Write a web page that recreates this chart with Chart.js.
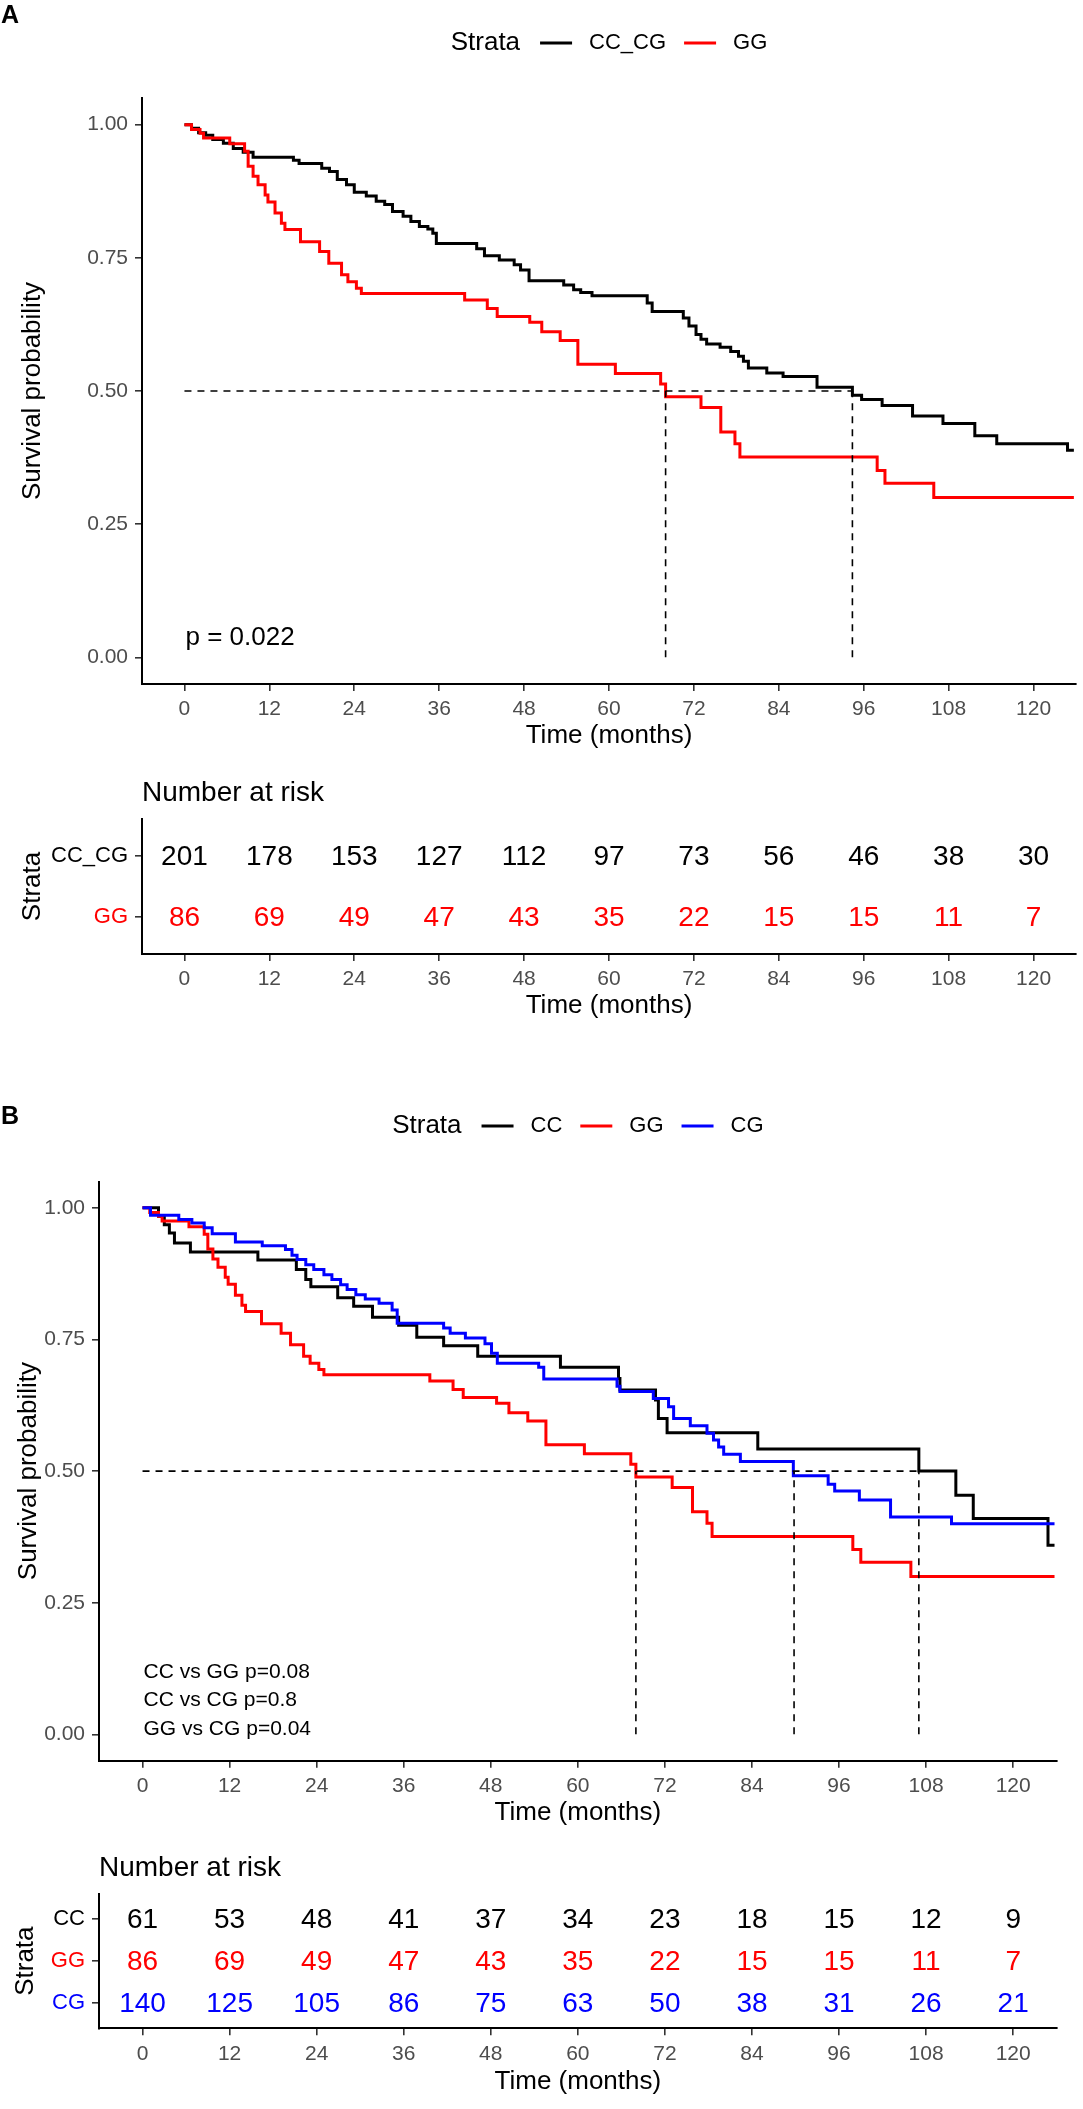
<!doctype html>
<html>
<head>
	<meta charset="utf-8" />
	<title>Survival curves</title>
	<style>
		html, body { margin: 0; padding: 0; background: #fff; }
		body { width: 1083px; height: 2109px; position: relative; overflow: hidden; }
		canvas { position: absolute; left: 0; display: block; }
	</style>
	<script src="https://cdn.jsdelivr.net/npm/chart.js@4.4.1/dist/chart.umd.min.js"></script>
</head>
<body>
	<canvas id="plotA" width="1083" height="760" style="top:0px"></canvas>
	<canvas id="riskA" width="1083" height="270" style="top:760px"></canvas>
	<canvas id="plotB" width="1083" height="740" style="top:1090px"></canvas>
	<canvas id="riskB" width="1083" height="279" style="top:1830px"></canvas>

<script>
// ---- data ----
var timeTicks = [0, 12, 24, 36, 48, 60, 72, 84, 96, 108, 120];
var survTicks = [0, 0.25, 0.5, 0.75, 1];
var lastTime = 125.7;

// panel A, strata CC_CG (black)
var ccCgTime = [1.0, 2.0, 3.0, 4.0, 5.5, 6.9, 8.3, 9.7, 15.4, 16.2, 19.4, 20.5, 21.6, 22.9, 24.0, 25.7, 27.1, 28.3, 29.4, 30.9, 32.0, 33.2, 34.4, 35.1, 35.6, 41.3, 42.4, 44.5, 46.6, 47.5, 48.7, 53.6, 55.0, 56.0, 57.6, 65.4, 66.1, 70.5, 71.3, 72.3, 73.0, 73.8, 75.7, 77.2, 78.3, 79.0, 79.7, 82.3, 84.6, 89.4, 94.4, 95.7, 98.6, 102.9, 107.2, 111.7, 114.8, 124.8];
var ccCgSurv = [0.993, 0.985, 0.980, 0.972, 0.965, 0.955, 0.948, 0.939, 0.933, 0.927, 0.918, 0.912, 0.897, 0.887, 0.873, 0.866, 0.856, 0.850, 0.837, 0.828, 0.818, 0.809, 0.804, 0.796, 0.777, 0.767, 0.754, 0.746, 0.737, 0.727, 0.707, 0.699, 0.690, 0.685, 0.679, 0.665, 0.649, 0.637, 0.622, 0.606, 0.597, 0.588, 0.582, 0.574, 0.565, 0.556, 0.543, 0.534, 0.527, 0.507, 0.492, 0.484, 0.473, 0.453, 0.439, 0.416, 0.401, 0.389];

// strata GG (red), same group in both panels
var ggTime = [1.0, 2.2, 2.7, 6.4, 8.5, 9.0, 9.7, 10.4, 11.4, 11.8, 12.8, 13.7, 14.2, 16.4, 19.1, 20.4, 22.2, 23.1, 24.3, 25.0, 39.6, 42.8, 44.2, 48.8, 50.5, 53.1, 55.6, 60.9, 67.3, 68.0, 73.0, 75.8, 77.8, 78.5, 97.9, 99.0, 105.9];
var ggSurv = [0.991, 0.984, 0.975, 0.964, 0.950, 0.922, 0.903, 0.887, 0.868, 0.855, 0.834, 0.815, 0.803, 0.780, 0.762, 0.740, 0.718, 0.705, 0.693, 0.683, 0.671, 0.655, 0.640, 0.629, 0.611, 0.595, 0.550, 0.533, 0.513, 0.489, 0.469, 0.423, 0.401, 0.376, 0.351, 0.327, 0.300];

// panel B, strata CC (black)
var ccTime = [2.2, 3.0, 3.7, 4.4, 6.6, 15.9, 21.2, 22.5, 23.2, 26.9, 29.1, 31.7, 35.3, 37.8, 41.5, 46.2, 57.6, 65.6, 65.8, 70.7, 71.1, 72.3, 84.8, 107.0, 112.1, 114.5, 124.8];
var ccSurv = [0.984, 0.968, 0.952, 0.933, 0.916, 0.901, 0.883, 0.864, 0.850, 0.829, 0.813, 0.792, 0.777, 0.754, 0.738, 0.718, 0.697, 0.676, 0.654, 0.635, 0.600, 0.573, 0.542, 0.500, 0.454, 0.410, 0.359];

// panel B, strata CG (blue)
var cgTime = [1.1, 5.0, 6.8, 8.5, 9.6, 12.8, 16.5, 19.7, 20.6, 21.3, 22.5, 23.6, 25.0, 26.1, 27.3, 28.2, 29.4, 30.7, 32.6, 34.4, 35.1, 41.5, 42.4, 44.5, 47.2, 48.1, 48.9, 54.6, 55.3, 65.4, 65.8, 70.4, 72.5, 73.2, 75.5, 77.8, 78.7, 79.4, 80.1, 82.4, 89.7, 94.5, 95.4, 98.8, 103.1, 111.5];
var cgSurv = [0.986, 0.978, 0.971, 0.962, 0.951, 0.935, 0.928, 0.921, 0.910, 0.902, 0.892, 0.883, 0.873, 0.864, 0.854, 0.845, 0.835, 0.827, 0.819, 0.806, 0.781, 0.772, 0.762, 0.753, 0.742, 0.724, 0.705, 0.697, 0.675, 0.661, 0.651, 0.638, 0.622, 0.600, 0.586, 0.572, 0.559, 0.546, 0.532, 0.518, 0.491, 0.475, 0.462, 0.445, 0.413, 0.400];

var mediansA = [68.0, 94.4];
var mediansB = [68.0, 89.8, 107.0];

// numbers at risk at timeTicks
var riskCcCg = [201, 178, 153, 127, 112, 97, 73, 56, 46, 38, 30];
var riskGG = [86, 69, 49, 47, 43, 35, 22, 15, 15, 11, 7];
var riskCC = [61, 53, 48, 41, 37, 34, 23, 18, 15, 12, 9];
var riskCG = [140, 125, 105, 86, 75, 63, 50, 38, 31, 26, 21];

var pTextA = ['p = 0.022'];
var pTextB = ['CC vs GG p=0.08', 'CC vs CG p=0.8', 'GG vs CG p=0.04'];

var BLACK = '#000000', RED = '#ff0000', BLUE = '#0000ff';
var FONT = "'Liberation Sans', Arial, sans-serif";

Chart.defaults.font.family = FONT;
Chart.defaults.color = '#000';

function kmPoints(times, surv) {
	var pts = [{ x: 0, y: 1 }];
	for (var i = 0; i < times.length; i++) pts.push({ x: times[i], y: surv[i] });
	pts.push({ x: lastTime, y: surv[surv.length - 1] });
	return pts;
}

function curve(times, surv, color) {
	return { data: kmPoints(times, surv), borderColor: color, borderWidth: 3, stepped: 'before', pointRadius: 0, fill: false };
}

function medianSets(medians) {
	var dash = { borderColor: '#000', borderWidth: 1.6, borderDash: [7, 6], pointRadius: 0, fill: false };
	var sets = [Object.assign({ data: [{ x: 0, y: 0.5 }, { x: Math.max.apply(null, medians), y: 0.5 }] }, dash)];
	medians.forEach(function (m) {
		sets.push(Object.assign({ data: [{ x: m, y: 0 }, { x: m, y: 0.5 }] }, dash));
	});
	return sets;
}

function axisBase() {
	return {
		grid: { drawOnChartArea: false, drawTicks: true, tickLength: 7, color: '#333', lineWidth: 1.6 },
		border: { display: true, color: '#000', width: 2 }
	};
}

function timeAxis(height, titlePad) {
	return Object.assign(axisBase(), {
		type: 'linear', min: -6, max: 126,
		afterBuildTicks: function (s) { s.ticks = timeTicks.map(function (v) { return { value: v }; }); },
		afterFit: function (s) { s.height = height; },
		ticks: { color: '#4d4d4d', font: { size: 21 }, padding: 6, callback: function (v) { return String(v); } },
		title: { display: true, text: 'Time (months)', font: { size: 26 }, color: '#000', padding: { top: 0, bottom: titlePad } }
	});
}

function survAxis(width, titlePad) {
	return Object.assign(axisBase(), {
		type: 'linear', min: -0.05, max: 1.05,
		afterBuildTicks: function (s) { s.ticks = survTicks.map(function (v) { return { value: v }; }); },
		afterFit: function (s) { s.width = width; },
		ticks: { color: '#4d4d4d', font: { size: 21 }, padding: 7, callback: function (v) { return v.toFixed(2); } },
		title: { display: true, text: 'Survival probability', font: { size: 26 }, color: '#000', padding: { top: titlePad, bottom: 0 } }
	});
}

function strataAxis(names, colors, width, titlePad) {
	var n = names.length;
	return Object.assign(axisBase(), {
		type: 'linear', min: 0.4, max: n + 0.6,
		afterBuildTicks: function (s) { s.ticks = names.map(function (nm, i) { return { value: n - i }; }); },
		afterFit: function (s) { s.width = width; },
		ticks: {
			font: { size: 22 }, padding: 7,
			callback: function (v) { return names[n - v]; },
			color: function (c) { return c.tick ? colors[n - c.tick.value] : '#000'; }
		},
		title: { display: true, text: 'Strata', font: { size: 26 }, color: '#000', padding: { top: titlePad, bottom: 0 } }
	});
}

// legend, panel letter and p-values drawn on the plot canvas
function plotDecor(letter, letterY, legendY, names, colors, pLines, pValues, pSize) {
	return {
		id: 'decor' + letter,
		afterDraw: function (chart) {
			var ctx = chart.ctx, area = chart.chartArea, sx = chart.scales.x, sy = chart.scales.y;
			ctx.save();
			ctx.textBaseline = 'middle';
			ctx.fillStyle = '#000';
			ctx.font = 'bold 25px ' + FONT;
			ctx.textAlign = 'left';
			ctx.fillText(letter, 1, letterY);

			// legend
			ctx.font = '26px ' + FONT;
			var titleW = ctx.measureText('Strata').width;
			ctx.font = '22px ' + FONT;
			var total = titleW + 20;
			names.forEach(function (nm, i) {
				total += 32 + 17 + ctx.measureText(nm).width + (i < names.length - 1 ? 18 : 0);
			});
			var x = (area.left + area.right) / 2 - total / 2;
			ctx.font = '26px ' + FONT;
			ctx.fillText('Strata', x, legendY);
			x += titleW + 20;
			ctx.font = '22px ' + FONT;
			names.forEach(function (nm, i) {
				ctx.strokeStyle = colors[i];
				ctx.lineWidth = 3;
				ctx.beginPath();
				ctx.moveTo(x, legendY);
				ctx.lineTo(x + 32, legendY);
				ctx.stroke();
				x += 32 + 17;
				ctx.fillStyle = '#000';
				ctx.fillText(nm, x, legendY);
				x += ctx.measureText(nm).width + 18;
			});

			// p-values
			ctx.font = pSize + 'px ' + FONT;
			pLines.forEach(function (t, i) {
				ctx.fillText(t, sx.getPixelForValue(0) + 1, sy.getPixelForValue(pValues[i]));
			});
			ctx.restore();
		}
	};
}

// number-at-risk text placed on the table scales
function riskDecor(id, rows, colors) {
	return {
		id: id,
		afterDraw: function (chart) {
			var ctx = chart.ctx, area = chart.chartArea, sx = chart.scales.x, sy = chart.scales.y;
			var n = rows.length;
			ctx.save();
			ctx.textBaseline = 'middle';
			ctx.fillStyle = '#000';
			ctx.textAlign = 'left';
			ctx.font = '28px ' + FONT;
			ctx.fillText('Number at risk', area.left, area.top - 26);
			ctx.textAlign = 'center';
			rows.forEach(function (row, i) {
				ctx.fillStyle = colors[i];
				row.forEach(function (v, j) {
					ctx.fillText(String(v), sx.getPixelForValue(timeTicks[j]), sy.getPixelForValue(n - i) + 1);
				});
			});
			ctx.restore();
		}
	};
}

function makeChart(id, datasets, xAxis, yAxis, padding, plugins) {
	return new Chart(document.getElementById(id), {
		type: 'line',
		data: { datasets: datasets },
		options: {
			responsive: false,
			animation: false,
			parsing: true,
			layout: { padding: padding },
			plugins: { legend: { display: false }, tooltip: { enabled: false } },
			scales: { x: xAxis, y: yAxis }
		},
		plugins: plugins
	});
}

// ---- panel A ----
makeChart('plotA',
	medianSets(mediansA).concat([curve(ggTime, ggSurv, RED), curve(ccCgTime, ccCgSurv, BLACK)]),
	timeAxis(76, 8.4), survAxis(142, 17.4),
	{ top: 98, right: 7, left: 0, bottom: 0 },
	[plotDecor('A', 16, 43, ['CC_CG', 'GG'], [BLACK, RED], pTextA, [0.037], 26)]);

makeChart('riskA', [],
	timeAxis(76, 8.4), strataAxis(['CC_CG', 'GG'], [BLACK, RED], 142, 17.4),
	{ top: 59, right: 7, left: 0, bottom: 0 },
	[riskDecor('riskTextA', [riskCcCg, riskGG], [BLACK, RED])]);

// ---- panel B ----
makeChart('plotB',
	medianSets(mediansB).concat([curve(cgTime, cgSurv, BLUE), curve(ggTime, ggSurv, RED), curve(ccTime, ccSurv, BLACK)]),
	timeAxis(69.3, 1.4), survAxis(99, 13.4),
	{ top: 91.5, right: 26.3, left: 0, bottom: 0 },
	[plotDecor('B', 27, 36, ['CC', 'GG', 'CG'], [BLACK, RED, BLUE], pTextB, [0.119, 0.064, 0.009], 21)]);

makeChart('riskB', [],
	timeAxis(80.7, 11.7), strataAxis(['CC', 'GG', 'CG'], [BLACK, RED, BLUE], 99, 10),
	{ top: 64, right: 26.3, left: 0, bottom: 0 },
	[riskDecor('riskTextB', [riskCC, riskGG, riskCG], [BLACK, RED, BLUE])]);
</script>
</body>
</html>
